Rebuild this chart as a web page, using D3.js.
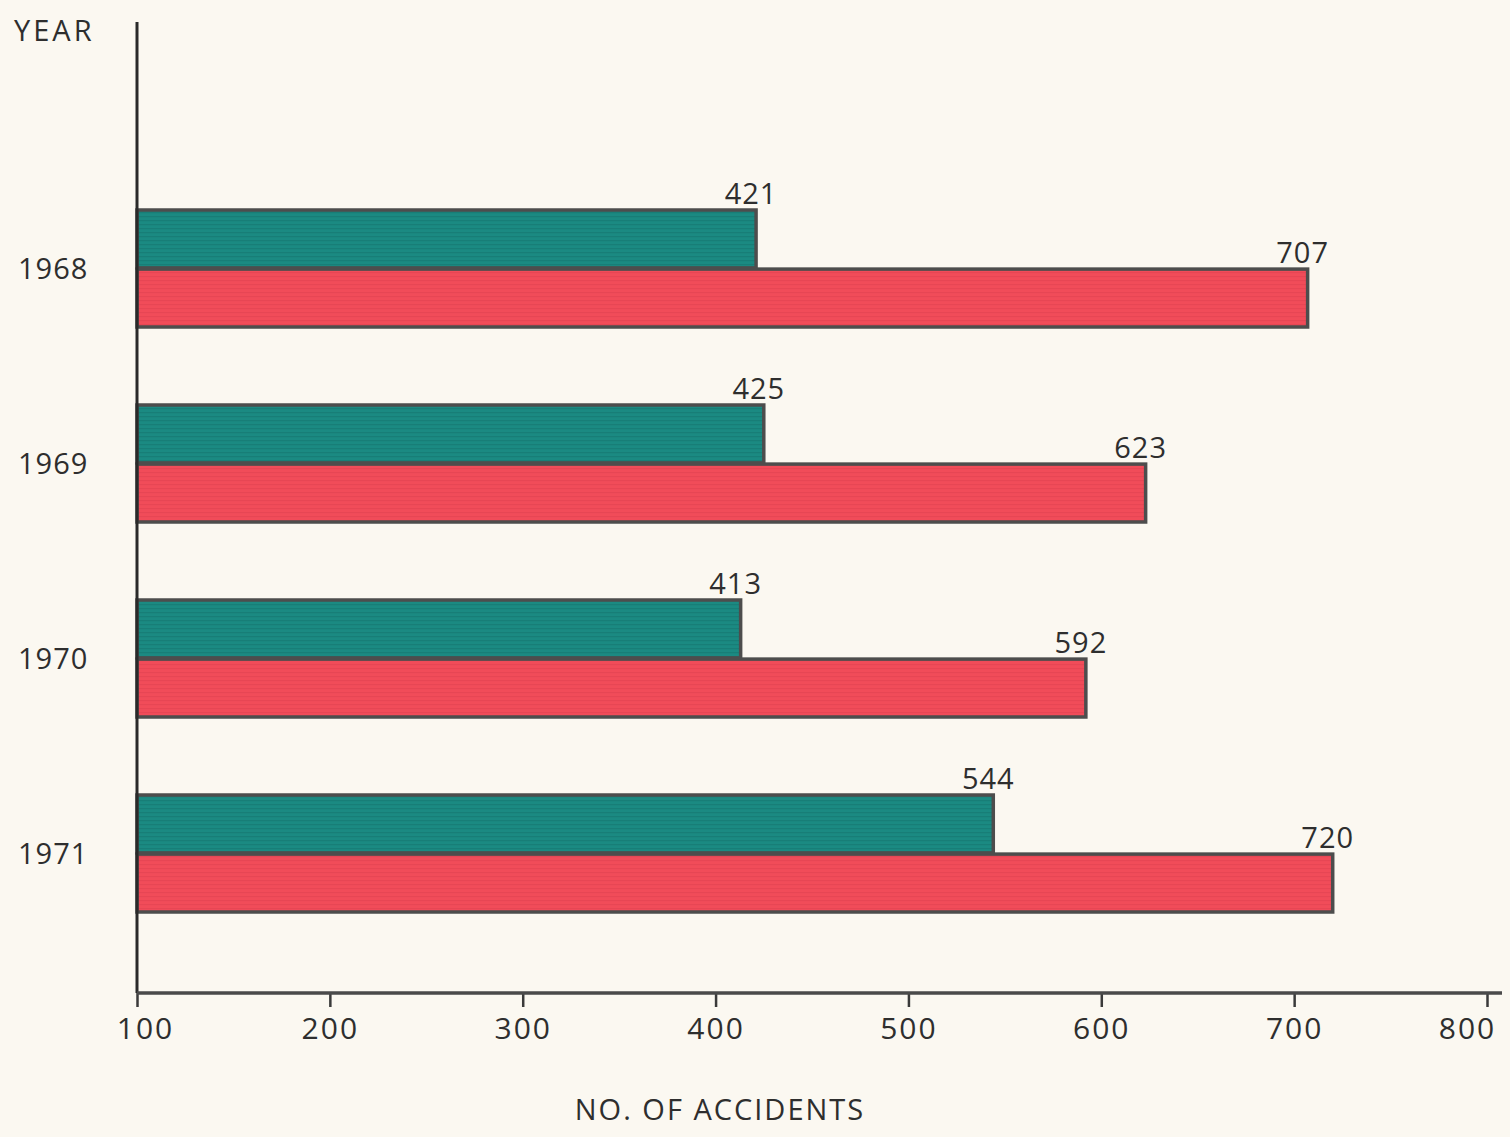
<!DOCTYPE html>
<html>
<head>
<meta charset="utf-8">
<script src="https://cdn.jsdelivr.net/npm/d3@7"></script>
<style>
  html, body { margin: 0; padding: 0; background: #fbf8f1; }
  svg { display: block; }
  text { font-family: "Open Sans", "DejaVu Sans", sans-serif; fill: #2e2e2e; }
</style>
</head>
<body>
<div id="chart"></div>
<script>
// ---- data ----
const years = ["1968", "1969", "1970", "1971"];
const seriesNames = ["teal", "red"];
const tealValues = [421, 425, 413, 544];
const redValues = [707, 623, 592, 720];
const tickValues = [100, 200, 300, 400, 500, 600, 700, 800];
const yAxisTitle = "YEAR";
const xAxisTitle = "NO. OF ACCIDENTS";

// ---- layout ----
const W = 1510, H = 1137;
const colors = { teal: "#1b8a82", red: "#f14c59" };

const svg = d3.select("#chart").append("svg").attr("width", W).attr("height", H);
svg.append("rect").attr("width", W).attr("height", H).attr("fill", "#fbf8f1");

// textured fills
const defs = svg.append("defs");
function stripePattern(id, base, lineColor) {
  const p = defs.append("pattern").attr("id", id).attr("patternUnits", "userSpaceOnUse")
    .attr("width", 8).attr("height", 4);
  p.append("rect").attr("width", 8).attr("height", 4).attr("fill", base);
  p.append("rect").attr("y", 0).attr("width", 8).attr("height", 1.2).attr("fill", lineColor);
}
stripePattern("pat-teal", colors.teal, "rgba(0,40,40,0.12)");
stripePattern("pat-red", colors.red, "rgba(120,0,20,0.08)");

const x = d3.scaleLinear().domain([100, 800]).range([137, 1487]);
const y = d3.scaleBand().domain(years).range([171, 951]).paddingInner(0.4).paddingOuter(0.2);
const ySub = d3.scaleBand().domain(seriesNames).range([0, y.bandwidth()]).paddingInner(0.02);

const rows = years.map((yr, i) => ({ year: yr, teal: tealValues[i], red: redValues[i] }));

// bars
const g = svg.append("g");
rows.forEach(r => {
  seriesNames.forEach(s => {
    g.append("rect")
      .attr("x", x(100))
      .attr("y", y(r.year) + ySub(s))
      .attr("width", x(r[s]) - x(100))
      .attr("height", ySub.bandwidth())
      .attr("fill", `url(#pat-${s})`)
      .attr("stroke", "#4d4d4d")
      .attr("stroke-width", 3.5);
    g.append("text")
      .attr("x", x(r[s]) - 5)
      .attr("y", y(r.year) + ySub(s) - 6)
      .attr("text-anchor", "middle")
      .attr("font-size", 29)
      .attr("letter-spacing", 1)
      .text(r[s]);
  });
  // year label
  svg.append("text")
    .attr("x", 18)
    .attr("y", y(r.year) + y.bandwidth() / 2)
    .attr("dy", "0.36em")
    .attr("font-size", 29)
    .attr("letter-spacing", 1)
    .text(r.year);
});

// vertical axis line
const baseY = 993;
svg.append("line").attr("x1", x(100)).attr("x2", x(100)).attr("y1", 22).attr("y2", baseY)
  .attr("stroke", "#2a2a2a").attr("stroke-width", 3);

// x axis
const axis = svg.append("g").attr("transform", `translate(0,${baseY})`)
  .call(d3.axisBottom(x).tickValues(tickValues).tickSize(14).tickSizeOuter(0).tickPadding(11));
axis.select(".domain").remove();
axis.selectAll(".tick line").attr("stroke", "#3a3a3a").attr("stroke-width", 2.5);
axis.selectAll(".tick text").attr("font-size", 30).attr("fill", "#2e2e2e")
  .attr("letter-spacing", 2)
  .style("font-family", "\"Open Sans\", sans-serif");
// keep the last label inside the page
axis.selectAll(".tick text").filter(d => d === tickValues[tickValues.length - 1]).attr("dx", -20);
axis.selectAll(".tick text").filter(d => d === tickValues[0]).attr("dx", 8);
svg.append("line").attr("x1", x(100)).attr("x2", W - 8).attr("y1", baseY).attr("y2", baseY)
  .attr("stroke", "#4a4a4a").attr("stroke-width", 3.5);

// titles
svg.append("text").attr("x", 14).attr("y", 31).attr("dy", "0.36em").attr("font-size", 29)
  .attr("letter-spacing", 3).text(yAxisTitle);
svg.append("text").attr("x", 720).attr("y", 1110).attr("dy", "0.36em").attr("text-anchor", "middle")
  .attr("font-size", 29).attr("letter-spacing", 2).text(xAxisTitle);
</script>
</body>
</html>
